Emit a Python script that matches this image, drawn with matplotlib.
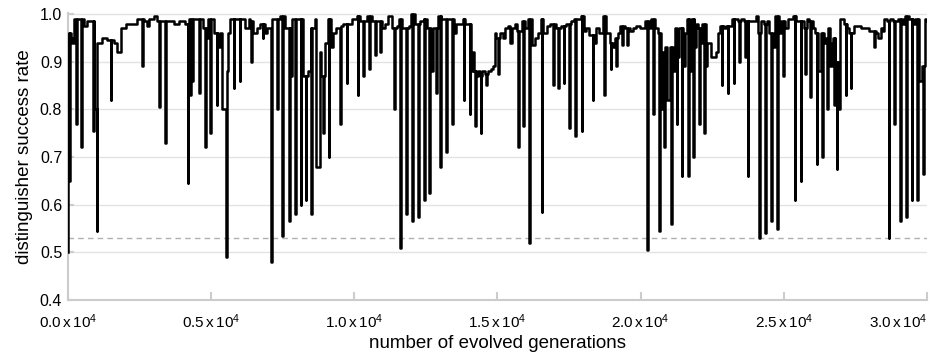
import matplotlib.pyplot as plt

plt.rcParams['font.family'] = ['Liberation Sans', 'DejaVu Sans']
plt.rcParams['mathtext.default'] = 'regular'

# upper level of the run (generation, success rate)
base_gen = [0, 20, 40, 100, 150, 210, 560, 678, 900, 1030, 1204, 1380, 1614, 1730, 1848, 2023, 2433, 2667, 2750, 2842, 3018, 3130, 3700, 3900,
            4091, 4231, 4419, 4676, 4735, 4852, 4887, 5027, 5121, 5261, 5320, 5401, 5542, 5612, 5671, 6139, 6197, 6314, 6373, 6454, 6607, 6724, 6899, 6958, 7133, 7425, 7601, 7777, 7835, 8069, 8209,
            8387, 8481, 8621, 8680, 8797, 8855, 8972, 9089, 9206, 9265, 9382, 9557, 9616, 9908, 10084, 10201, 10435, 10610, 10961, 11078, 11195, 11312, 11488, 11569, 11663, 11897, 11991, 12108, 12283, 12423, 12541,
            12686, 12744, 12920, 13037, 13388, 13482, 13564, 13798, 13856, 14067, 14149, 14184, 14266, 14324, 14383, 14464, 14558, 14675, 14792, 14851, 14909, 14968, 15085, 15202, 15260, 15377, 15436, 15494, 15611, 15670, 15845, 15962, 16056, 16196, 16313, 16430, 16524, 16606, 16723, 16840, 17038,
            17218, 17394, 17569, 17686, 17920, 18014, 18096, 18213, 18388, 18447, 18564, 18681, 18798, 18915, 19032, 19090, 19207, 19266, 19441, 19617, 19734, 19851, 19968, 20143, 20319, 20377, 20494, 20611, 20705, 20751, 20845, 20939, 21021, 21138, 21196,
            21282, 21341, 21493, 21551, 21610, 21692, 21750, 21867, 21926, 22007, 22101, 22160, 22277, 22335, 22452, 22628, 22686, 22780, 22897, 22979, 23177, 23388, 23505, 23622, 23915, 24032, 24090, 24207, 24301, 24418, 24500, 24617, 24698, 24815, 24909, 25026, 25143, 25319, 25436,
            25639, 25697, 25814, 25873, 26025, 26083, 26188, 26305, 26399, 26458, 26551, 26610, 26668, 26727, 26785, 26890, 26961, 27101, 27218, 27277, 27452, 27686, 27979, 28213, 28294, 28388, 28447, 28505, 28599, 28716, 28798, 28996, 29148, 29230, 29383, 29511, 29581, 29733, 29815, 29932, 30000]
base_rate = [0.50, 0.76, 0.96, 0.95, 0.94, 0.99, 0.975, 0.985, 0.80, 0.94, 0.95, 0.945, 0.94, 0.92, 0.97, 0.98, 0.99, 0.985, 0.975, 0.99, 0.995, 0.985, 0.98, 0.985,
             0.98, 0.99, 0.99, 0.99, 0.97, 0.95, 0.99, 0.99, 0.96, 0.93, 0.96, 0.80, 0.88, 0.96, 0.99, 0.99, 0.97, 0.99, 0.985, 0.96, 0.97, 0.98, 0.96, 0.97, 0.99, 0.995, 0.97, 0.87, 0.99, 0.99, 0.87,
             0.88, 0.97, 0.99, 0.68, 0.92, 0.87, 0.94, 0.99, 0.93, 0.96, 0.97, 0.975, 0.98, 0.99, 0.995, 0.985, 0.995, 0.985, 0.97, 0.98, 0.995, 0.97, 0.975, 0.99, 0.97, 0.975, 1.0, 0.98, 0.985, 0.99, 0.97,
             0.88, 0.97, 0.995, 0.99, 0.99, 0.96, 0.98, 0.99, 0.98, 0.88, 0.92, 0.88, 0.87, 0.88, 0.87, 0.88, 0.875, 0.88, 0.885, 0.89, 0.96, 0.95, 0.96, 0.95, 0.97, 0.975, 0.94, 0.97, 0.98, 0.965, 0.985, 0.97, 0.99, 0.935, 0.95, 0.96, 0.99, 0.96, 0.975, 0.98, 0.97,
             0.975, 0.98, 0.985, 0.99, 0.995, 0.965, 0.97, 0.955, 0.94, 0.97, 0.96, 0.995, 0.96, 0.94, 0.93, 0.95, 0.96, 0.975, 0.97, 0.965, 0.97, 0.975, 0.97, 0.985, 0.97, 0.99, 0.97, 0.96, 0.80, 0.92, 0.93, 0.82, 0.93, 0.88, 0.97,
             0.91, 0.97, 0.89, 0.96, 0.99, 0.88, 0.99, 0.93, 0.98, 0.97, 0.94, 0.98, 0.89, 0.94, 0.91, 0.92, 0.96, 0.975, 0.97, 0.975, 0.99, 0.985, 0.99, 0.985, 0.985, 0.995, 0.96, 0.985, 0.98, 0.985, 0.96, 0.93, 0.995, 0.96, 0.985, 0.97, 0.99, 0.995, 0.985,
             0.985, 0.97, 0.99, 0.985, 0.97, 0.96, 0.88, 0.96, 0.94, 0.95, 0.97, 0.89, 0.94, 0.95, 0.90, 0.80, 0.99, 0.98, 0.97, 0.96, 0.975, 0.97, 0.965, 0.96, 0.95, 0.97, 0.965, 0.99, 0.985, 0.99, 0.985, 0.99, 0.98, 0.995, 0.99, 0.98, 0.99, 0.86, 0.89, 0.99, 0.985]

# short drops
dip_gen = [57, 291, 479, 890, 1005, 1497, 2608, 3193, 3404,
           4185, 4267, 4348, 4582, 4793, 4969, 5203, 5518, 5788, 5998, 6408, 6805, 7110, 7309, 7484, 7718, 7929, 8128, 8303,
           8504, 8913, 9112, 9499, 9733, 10119, 10318, 10517, 10727, 10903, 11406, 11616, 11815, 12014, 12225, 12447, 12623,
           12862, 13002, 13213, 13411, 13821, 14032, 14219, 14418, 14617, 15026, 15728, 15904, 16114, 16547, 16957,
           17124, 17312, 17511, 17721, 17943, 18330, 18739, 18950, 19149, 19347, 19535, 20237, 20436, 20646, 20822, 21056, 21255,
           21434, 21656, 21832, 22043, 22218, 22826, 23037, 23248, 23447, 23657, 23739, 24149, 24347, 24558, 24757, 24968, 25377, 25588,
           25756, 25931, 26142, 26341, 26516, 26750, 26844, 27160, 27335, 28154, 28657, 28856, 29066, 29277, 29464, 29651, 29862]
dip_rate = [0.65, 0.77, 0.72, 0.755, 0.545, 0.82, 0.89, 0.805, 0.73,
            0.645, 0.83, 0.86, 0.835, 0.72, 0.75, 0.81, 0.49, 0.845, 0.86, 0.90, 0.95, 0.48, 0.80, 0.535, 0.565, 0.58, 0.60, 0.61,
            0.58, 0.75, 0.70, 0.77, 0.855, 0.83, 0.87, 0.885, 0.915, 0.92, 0.80, 0.51, 0.58, 0.565, 0.575, 0.61, 0.625,
            0.835, 0.68, 0.71, 0.77, 0.82, 0.79, 0.765, 0.75, 0.85, 0.875, 0.72, 0.765, 0.52, 0.585, 0.85,
            0.845, 0.855, 0.76, 0.745, 0.755, 0.82, 0.83, 0.885, 0.89, 0.935, 0.935, 0.505, 0.79, 0.545, 0.72, 0.56, 0.77,
            0.66, 0.66, 0.70, 0.77, 0.75, 0.85, 0.835, 0.855, 0.90, 0.91, 0.66, 0.53, 0.54, 0.565, 0.55, 0.87, 0.61, 0.65,
            0.875, 0.825, 0.685, 0.70, 0.80, 0.81, 0.675, 0.83, 0.845, 0.93, 0.53, 0.77, 0.565, 0.575, 0.61, 0.61, 0.665]

threshold = 0.53
xticks = [0, 5000, 10000, 15000, 20000, 25000, 30000]
yticks = [0.4, 0.5, 0.6, 0.7, 0.8, 0.9, 1.0]

# merge level changes and drops into one step series
events = sorted([(g, r, 0) for g, r in zip(base_gen, base_rate)] +
                [(g, r, 1) for g, r in zip(dip_gen, dip_rate)])
xs, ys = [], []
cur = base_rate[0]
for g, r, is_dip in events:
    if is_dip:
        xs += [g, g + 25]
        ys += [r, cur]
    else:
        xs.append(max(g, xs[-1]) if xs else g)
        ys.append(r)
        cur = r

fig = plt.figure(figsize=(9.33, 3.54), dpi=100)
ax = fig.add_axes([0.0726, 0.1525, 0.921, 0.8107])

for y in yticks[1:]:
    ax.axhline(y, color='#e3e3e3', lw=1, zorder=0)
ax.axhline(threshold, color='#b0b0b0', lw=1, ls=(0, (4, 3)), zorder=1)
ax.plot(xs, ys, color='black', lw=1.8, drawstyle='steps-post', zorder=3)

ax.set_xlim(0, 30000)
ax.set_ylim(0.4, 1.002)
for s in ['top', 'right']:
    ax.spines[s].set_visible(False)
for s in ['left', 'bottom']:
    ax.spines[s].set_color('#cccccc')
    ax.spines[s].set_linewidth(1.5)

ax.set_xticks(xticks)
ax.set_xticklabels(['%.1f$\\,$x$\\,$10$^{4}$' % (v / 10000) for v in xticks], fontsize=11)
ax.get_xticklabels()[-1].set_horizontalalignment('right')
ax.set_yticks(yticks)
ax.set_yticklabels(['%.1f' % v for v in yticks], fontsize=11.5)
ax.tick_params(axis='x', direction='in', length=6, width=1.5, color='#cccccc', pad=9)
ax.tick_params(axis='y', direction='in', length=4, width=1.5, color='#cccccc', pad=4)

ax.set_xlabel('number of evolved generations', fontsize=13.5, labelpad=3)
ax.set_ylabel('distinguisher success rate', fontsize=13.5, labelpad=5)

fig.savefig('out.png', dpi=100)
